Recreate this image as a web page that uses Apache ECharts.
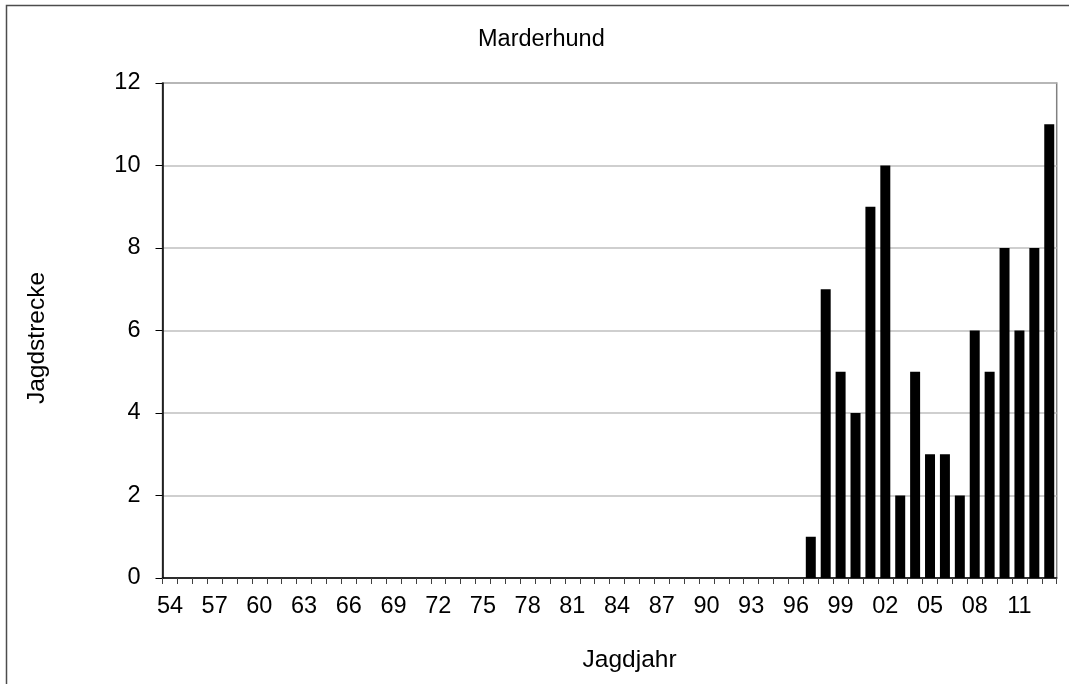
<!DOCTYPE html>
<html>
<head>
<meta charset="utf-8">
<script src="https://cdn.jsdelivr.net/npm/echarts@6/dist/echarts.min.js"></script>
<style>
html,body{margin:0;padding:0;background:#fff;}
#chart{width:1069px;height:684px;}
</style>
</head>
<body>
<div id="chart"></div>
<script>
var titleText = 'Marderhund';
var xAxisTitle = 'Jagdjahr';
var yAxisTitle = 'Jagdstrecke';
var years = ['54','55','56','57','58','59','60','61','62','63','64','65','66','67','68','69',
  '70','71','72','73','74','75','76','77','78','79','80','81','82','83','84','85','86','87','88','89',
  '90','91','92','93','94','95','96','97','98','99','00','01','02','03','04','05','06','07','08','09',
  '10','11','12','13'];
var strecke = [0,0,0,0,0,0,0,0,0,0,0,0,0,0,0,0,
  0,0,0,0,0,0,0,0,0,0,0,0,0,0,0,0,0,0,0,0,
  0,0,0,0,0,0,0,1,7,5,4,9,10,2,5,3,3,2,6,5,
  8,6,8,11];
var yTicks = {min:0, max:12, interval:2};

var FONT = 'Liberation Sans, Arial, sans-serif';
var chart = echarts.init(document.getElementById('chart'), null, {renderer:'canvas'});
chart.setOption({
  animation:false,
  backgroundColor:'#ffffff',
  title:{
    text:titleText, left:478, top:28, padding:0,
    textStyle:{fontFamily:FONT, fontSize:23.5, fontWeight:'normal', color:'#000'}
  },
  graphic:[{
    type:'rect', silent:true, z:-1,
    shape:{x:6.5, y:5.5, width:1080, height:700},
    style:{fill:null, stroke:'#4d4d4d', lineWidth:1.5}
  }],
  grid:{
    left:162.5, right:12.3, top:83, bottom:106,
    show:true, borderColor:'#808080', borderWidth:1.5, backgroundColor:'transparent'
  },
  xAxis:{
    type:'category', data:years,
    name:xAxisTitle, nameLocation:'middle', nameGap:70,
    nameTextStyle:{fontFamily:FONT, fontSize:24.5, color:'#000', padding:[0,0,0,40]},
    axisLine:{lineStyle:{color:'#000', width:1.5}},
    axisTick:{show:true, interval:0, length:6, alignWithLabel:false, lineStyle:{color:'#404040', width:1}},
    axisLabel:{interval:2, margin:17, fontFamily:FONT, fontSize:23.5, color:'#000'},
    splitLine:{show:false}
  },
  yAxis:{
    type:'value', min:yTicks.min, max:yTicks.max, interval:yTicks.interval,
    name:yAxisTitle, nameLocation:'middle', nameGap:113, nameRotate:90,
    nameTextStyle:{fontFamily:FONT, fontSize:24.5, color:'#000', padding:[0,15,0,0]},
    axisLine:{show:true, lineStyle:{color:'#000', width:1.5}},
    axisTick:{show:true, length:7, lineStyle:{color:'#000', width:1}},
    axisLabel:{margin:22, fontFamily:FONT, fontSize:23.5, color:'#000'},
    splitLine:{show:true, lineStyle:{color:'#bfbfbf', width:1.5}}
  },
  series:[{
    type:'bar', data:strecke, barWidth:'67%',
    itemStyle:{color:'#000'}
  }]
});
</script>
</body>
</html>
